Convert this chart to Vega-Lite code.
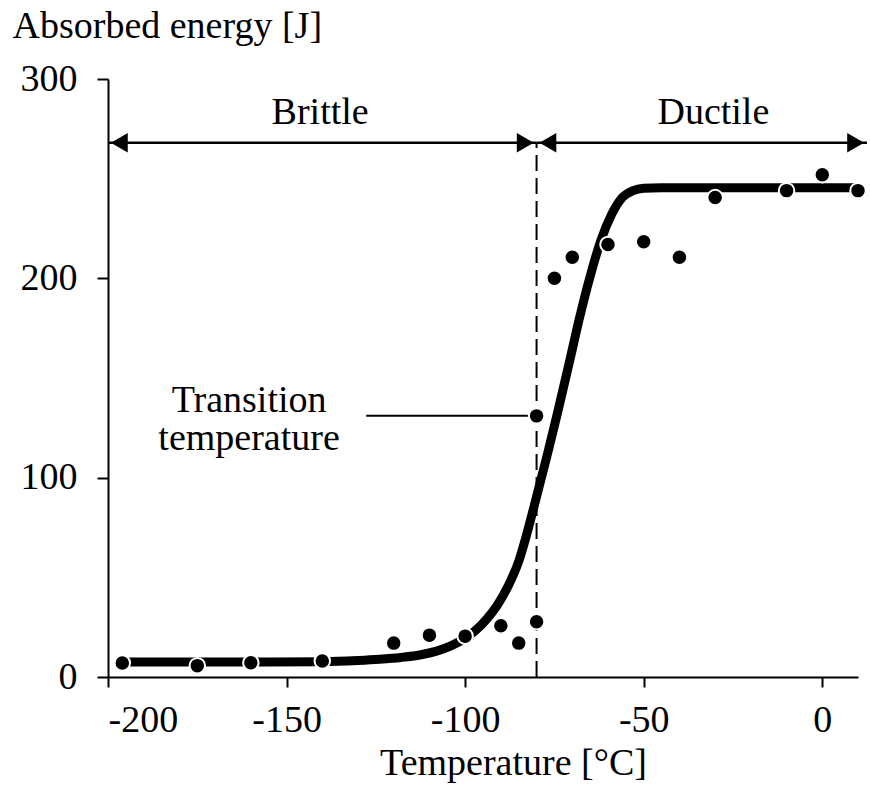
{
  "$schema": "https://vega.github.io/schema/vega-lite/v6.json",
  "width": 750,
  "height": 598,
  "autosize": {"type": "none"},
  "padding": {"left": 108, "top": 79, "right": 12, "bottom": 118},
  "background": "white",
  "config": {
    "view": {"stroke": null},
    "font": "Liberation Serif",
    "axis": {
      "grid": false,
      "domainColor": "black",
      "domainWidth": 2,
      "tickColor": "black",
      "tickWidth": 2,
      "labelFont": "Liberation Serif",
      "labelFontSize": 38,
      "labelColor": "black",
      "titleFont": "Liberation Serif",
      "titleFontSize": 38,
      "titleFontWeight": "normal",
      "titleColor": "black"
    }
  },
  "datasets": {
    "curve": [
      {"t": -197, "e": 7.5}, {"t": -180, "e": 7.5}, {"t": -160, "e": 7.5},
      {"t": -140, "e": 7.7}, {"t": -130, "e": 8.3}, {"t": -124, "e": 8.9},
      {"t": -118, "e": 9.8}, {"t": -112, "e": 11.3}, {"t": -108, "e": 13},
      {"t": -104, "e": 15.6}, {"t": -100, "e": 19.5}, {"t": -97, "e": 23.5},
      {"t": -94, "e": 29}, {"t": -91, "e": 36}, {"t": -88, "e": 45.5},
      {"t": -85, "e": 58}, {"t": -82.7, "e": 72}, {"t": -80, "e": 90.5},
      {"t": -77, "e": 111.5}, {"t": -74, "e": 133.5}, {"t": -71, "e": 156.5},
      {"t": -68, "e": 180}, {"t": -65, "e": 201}, {"t": -62, "e": 219},
      {"t": -59, "e": 232}, {"t": -56, "e": 240.5}, {"t": -53, "e": 244},
      {"t": -50, "e": 245.2}, {"t": -45, "e": 245.5}, {"t": -30, "e": 245.5},
      {"t": 10, "e": 245.5}
    ],
    "points": [
      {"t": -196, "e": 7}, {"t": -175, "e": 5.7}, {"t": -160, "e": 7.2},
      {"t": -140, "e": 8}, {"t": -120, "e": 17}, {"t": -110, "e": 21},
      {"t": -100, "e": 20.5}, {"t": -90, "e": 25.7}, {"t": -85, "e": 17},
      {"t": -80, "e": 27.7}, {"t": -80, "e": 131}, {"t": -75, "e": 200},
      {"t": -70, "e": 210.6}, {"t": -60, "e": 217}, {"t": -50, "e": 218.4},
      {"t": -40, "e": 210.6}, {"t": -30, "e": 240.5}, {"t": -10, "e": 244},
      {"t": 0, "e": 252}, {"t": 10, "e": 244}
    ],
    "spans": [
      {"from": -200, "to": -80, "level": 268},
      {"from": -80, "to": 12.5, "level": 268}
    ],
    "heads": [
      {"t": -200, "e": 268, "dir": "left"},
      {"t": -80, "e": 268, "dir": "right"},
      {"t": -80, "e": 268, "dir": "left"},
      {"t": 12.5, "e": 268, "dir": "right"}
    ],
    "labels": [
      {"t": -140.6, "e": 277.5, "text": "Brittle"},
      {"t": -30.5, "e": 277.5, "text": "Ductile"},
      {"t": -160.5, "e": 133, "text": "Transition"},
      {"t": -160.5, "e": 113.9, "text": "temperature"}
    ]
  },
  "encoding": {
    "x": {
      "type": "quantitative",
      "scale": {"domain": [-200, 10], "nice": false, "zero": false},
      "axis": {
        "values": [-200, -150, -100, -50, 0],
        "labelExpr": "replace(datum.label, '\u2212', '-')",
        "tickSize": 10,
        "labelPadding": 14,
        "title": "Temperature [°C]",
        "titleAlign": "center",
        "titleBaseline": "alphabetic",
        "titleX": 405,
        "titleY": 97
      }
    },
    "y": {
      "type": "quantitative",
      "scale": {"domain": [0, 300], "nice": false},
      "axis": {
        "values": [0, 100, 200, 300],
        "tickSize": 11,
        "labelPadding": 20,
        "title": "Absorbed energy [J]",
        "titleAngle": 0,
        "titleAlign": "left",
        "titleBaseline": "alphabetic",
        "titleX": -96,
        "titleY": -42
      }
    }
  },
  "layer": [
    {
      "data": {"values": [{"t": -80, "lo": 0, "hi": 268}]},
      "mark": {"type": "rule", "color": "black", "strokeWidth": 2, "strokeDash": [16, 7]},
      "encoding": {
        "x": {"field": "t", "type": "quantitative"},
        "y": {"field": "lo", "type": "quantitative"},
        "y2": {"field": "hi"}
      }
    },
    {
      "data": {"name": "spans"},
      "mark": {"type": "rule", "color": "black", "strokeWidth": 2.5},
      "encoding": {
        "x": {"field": "from", "type": "quantitative"},
        "x2": {"field": "to"},
        "y": {"field": "level", "type": "quantitative"}
      }
    },
    {
      "data": {"name": "heads"},
      "transform": [{"filter": "datum.dir === 'left'"}],
      "mark": {"type": "point", "shape": "triangle-left", "filled": true, "color": "black", "opacity": 1, "size": 380, "xOffset": 11.3},
      "encoding": {
        "x": {"field": "t", "type": "quantitative"},
        "y": {"field": "e", "type": "quantitative"}
      }
    },
    {
      "data": {"name": "heads"},
      "transform": [{"filter": "datum.dir === 'right'"}],
      "mark": {"type": "point", "shape": "triangle-right", "filled": true, "color": "black", "opacity": 1, "size": 380, "xOffset": -11.3},
      "encoding": {
        "x": {"field": "t", "type": "quantitative"},
        "y": {"field": "e", "type": "quantitative"}
      }
    },
    {
      "data": {"values": [{"from": -127.7, "to": -80, "level": 131}]},
      "mark": {"type": "rule", "color": "black", "strokeWidth": 2},
      "encoding": {
        "x": {"field": "from", "type": "quantitative"},
        "x2": {"field": "to"},
        "y": {"field": "level", "type": "quantitative"}
      }
    },
    {
      "data": {"name": "curve"},
      "mark": {"type": "line", "color": "black", "strokeWidth": 9, "interpolate": "monotone"},
      "encoding": {
        "x": {"field": "t", "type": "quantitative"},
        "y": {"field": "e", "type": "quantitative"}
      }
    },
    {
      "data": {"name": "points"},
      "mark": {"type": "circle", "fill": "black", "stroke": "white", "strokeWidth": 2, "size": 240, "opacity": 1},
      "encoding": {
        "x": {"field": "t", "type": "quantitative"},
        "y": {"field": "e", "type": "quantitative"}
      }
    },
    {
      "data": {"name": "labels"},
      "mark": {"type": "text", "font": "Liberation Serif", "fontSize": 38, "color": "black", "align": "center", "baseline": "alphabetic"},
      "encoding": {
        "x": {"field": "t", "type": "quantitative"},
        "y": {"field": "e", "type": "quantitative"},
        "text": {"field": "text"}
      }
    }
  ]
}
